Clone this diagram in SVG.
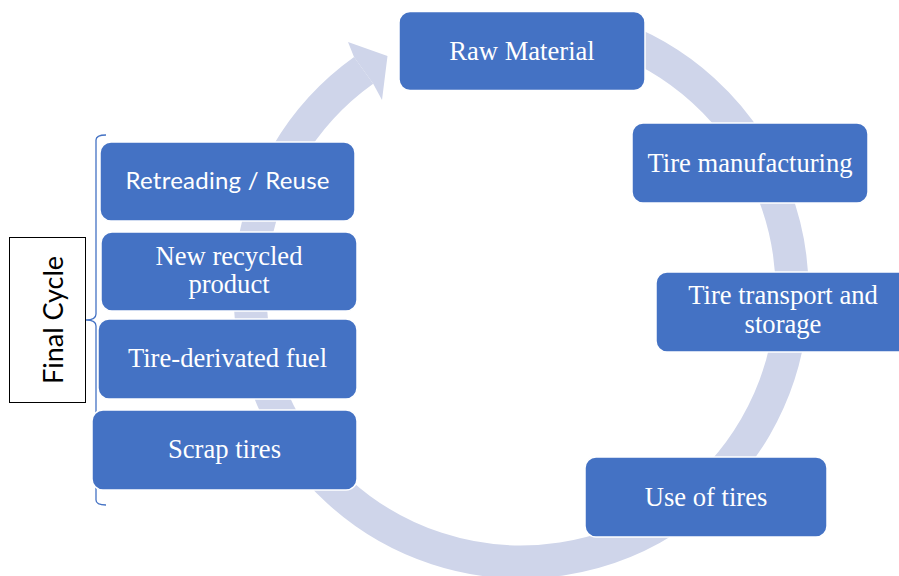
<svg xmlns="http://www.w3.org/2000/svg" width="899" height="576" viewBox="0 0 899 576">
  <defs>
    <style>
      .ring { fill: none; stroke: #CFD5EA; stroke-width: 33; }
      .head { fill: #CFD5EA; stroke: none; }
      .box { fill: #4472C4; stroke: #FFFFFF; stroke-width: 1.5; }
      .serif { font-family: "Liberation Serif", "Times New Roman", serif; font-size: 26.6px; fill: #FFFFFF; text-anchor: middle; }
      .sans { font-family: Lato, "Open Sans", sans-serif; font-size: 24px; fill: #FFFFFF; text-anchor: middle; }
      .label { font-family: Lato, "Open Sans", sans-serif; font-size: 27px; fill: #000000; text-anchor: middle; }
      .brace { fill: none; stroke: #4472C4; stroke-width: 1.3; }
    </style>
  </defs>

  <rect width="899" height="576" fill="#FFFFFF"/>

  <!-- cycle ring with arrowhead (connectors) -->
  <g id="connectors">
    <path class="ring" d="M604.74,33.26 A271,271 0 1 1 363.63,70.38"/>
    <polygon class="head" points="354,56.9 348,42 387.5,56 382,100 373.2,83.8"/>
  </g>

  <!-- bracket joining the final-cycle steps -->
  <g id="bracket">
    <path class="brace" d="M106,135 Q96,135 96,140 L96,314 Q96,320 86,320 Q96,320 96,326 L96,500 Q96,505 106,505"/>
  </g>

  <g id="final-cycle">
    <rect x="9.5" y="237.5" width="76" height="165" fill="#FFFFFF" stroke="#000000" stroke-width="1"/>
    <text class="label" transform="translate(63,320) rotate(-90)" x="0" y="0">Final Cycle</text>
  </g>

  <g id="raw-material">
    <rect class="box" x="399" y="11.5" width="246" height="79" rx="11"/>
    <text class="serif" x="522" y="59.5">Raw Material</text>
  </g>

  <g id="tire-manufacturing">
    <rect class="box" x="632" y="123" width="236" height="80" rx="11"/>
    <text class="serif" x="750" y="171.5">Tire manufacturing</text>
  </g>

  <g id="tire-transport">
    <rect class="box" x="656" y="272" width="254" height="80" rx="11"/>
    <text class="serif" x="783" y="304">Tire transport and</text>
    <text class="serif" x="783" y="333">storage</text>
  </g>

  <g id="use-of-tires">
    <rect class="box" x="585" y="457" width="242" height="80" rx="11"/>
    <text class="serif" x="706" y="505.5">Use of tires</text>
  </g>

  <g id="scrap-tires">
    <rect class="box" x="92" y="410" width="265" height="80" rx="11"/>
    <text class="serif" x="224.5" y="458">Scrap tires</text>
  </g>

  <g id="tire-derived-fuel">
    <rect class="box" x="98" y="319" width="259" height="80" rx="11"/>
    <text class="serif" x="227.5" y="367">Tire-derivated fuel</text>
  </g>

  <g id="new-recycled-product">
    <rect class="box" x="101" y="232" width="256" height="79" rx="11"/>
    <text class="serif" x="229" y="264.8">New recycled</text>
    <text class="serif" x="229" y="293">product</text>
  </g>

  <g id="retreading-reuse">
    <rect class="box" x="100" y="142" width="255" height="79" rx="11"/>
    <text class="sans" x="227.5" y="188.5" textLength="204">Retreading / Reuse</text>
  </g>
</svg>
